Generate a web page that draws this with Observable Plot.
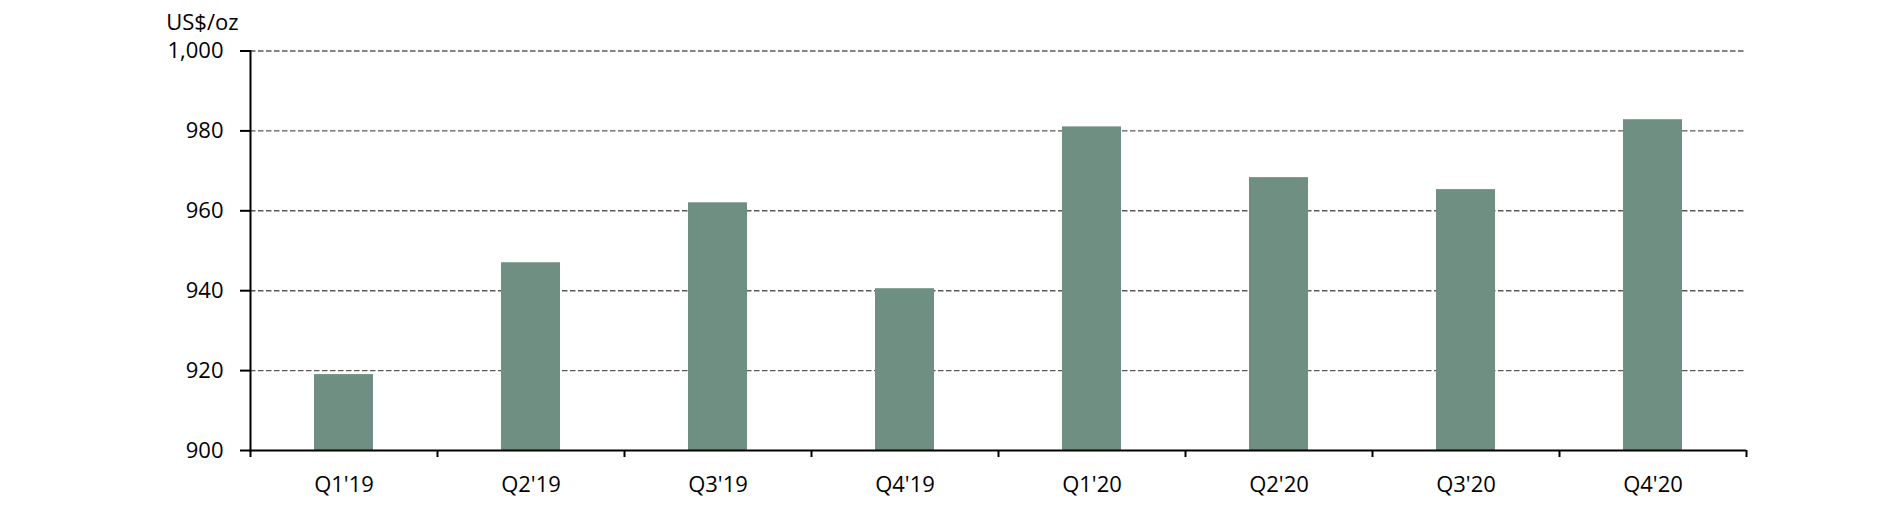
<!DOCTYPE html>
<html>
<head>
<meta charset="utf-8">
<script src="https://cdn.jsdelivr.net/npm/d3@7"></script>
<script src="https://cdn.jsdelivr.net/npm/@observablehq/plot@0.6"></script>
<style>
  html, body { margin: 0; padding: 0; background: #fff; }
  #chart svg { display: block; }
</style>
</head>
<body>
<div id="chart"></div>
<script>
const quarters = ["Q1'19", "Q2'19", "Q3'19", "Q4'19", "Q1'20", "Q2'20", "Q3'20", "Q4'20"];
const prices = [919, 947, 962, 940.5, 981, 968.3, 965.3, 982.8];
const yTicks = [900, 920, 940, 960, 980, 1000];
const gridTicks = [920, 940, 960, 980, 1000];
const unitLabel = "US$/oz";

const data = quarters.map((q, i) => ({quarter: q, price: prices[i]}));

const W = 1882, H = 505;
const mL = 250, mR = 136, mT = 50.5, mB = 55;
const step = (W - mL - mR) / quarters.length;
const font = "'Open Sans', 'Liberation Sans', sans-serif";

const chart = Plot.plot({
  width: W,
  height: H,
  marginLeft: mL,
  marginRight: mR,
  marginTop: mT,
  marginBottom: mB,
  style: {fontFamily: font, fontSize: "22px", color: "#000", background: "#fff", overflow: "visible"},
  x: {domain: quarters, paddingInner: 0.686, paddingOuter: 0.343, label: null},
  y: {domain: [900, 1000], label: null},
  marks: [
    Plot.gridY(gridTicks, {stroke: "#5a5a5a", strokeOpacity: 1, strokeWidth: 1.4, strokeDasharray: "5.5,2.5"}),
    Plot.barY(data, {x: "quarter", y1: 900, y2: "price", fill: "#6f8f82"}),
    Plot.axisY({ticks: yTicks, tickFormat: d3.format(","), tickSize: 10, tickPadding: 17, strokeWidth: 2, stroke: "#000", fontSize: 22, label: null}),
    Plot.axisX({ticks: quarters, tickSize: 7, dx: -step / 2, text: null, strokeWidth: 2, stroke: "#000", label: null}),
    Plot.axisX({ticks: [quarters[quarters.length - 1]], tickSize: 7, dx: step / 2, text: null, strokeWidth: 2, stroke: "#000", label: null}),
    Plot.axisX({ticks: quarters, tickSize: 0, tickPadding: 26, fontSize: 22, label: null}),
    Plot.ruleY([900], {stroke: "#000", strokeWidth: 2}),
    Plot.frame({anchor: "left", stroke: "#000", strokeWidth: 2}),
    Plot.text([unitLabel], {frameAnchor: "top-left", text: d => d, textAnchor: "end", dx: -12, dy: -37, fontSize: 22})
  ]
});

document.getElementById("chart").appendChild(chart);
</script>
</body>
</html>
